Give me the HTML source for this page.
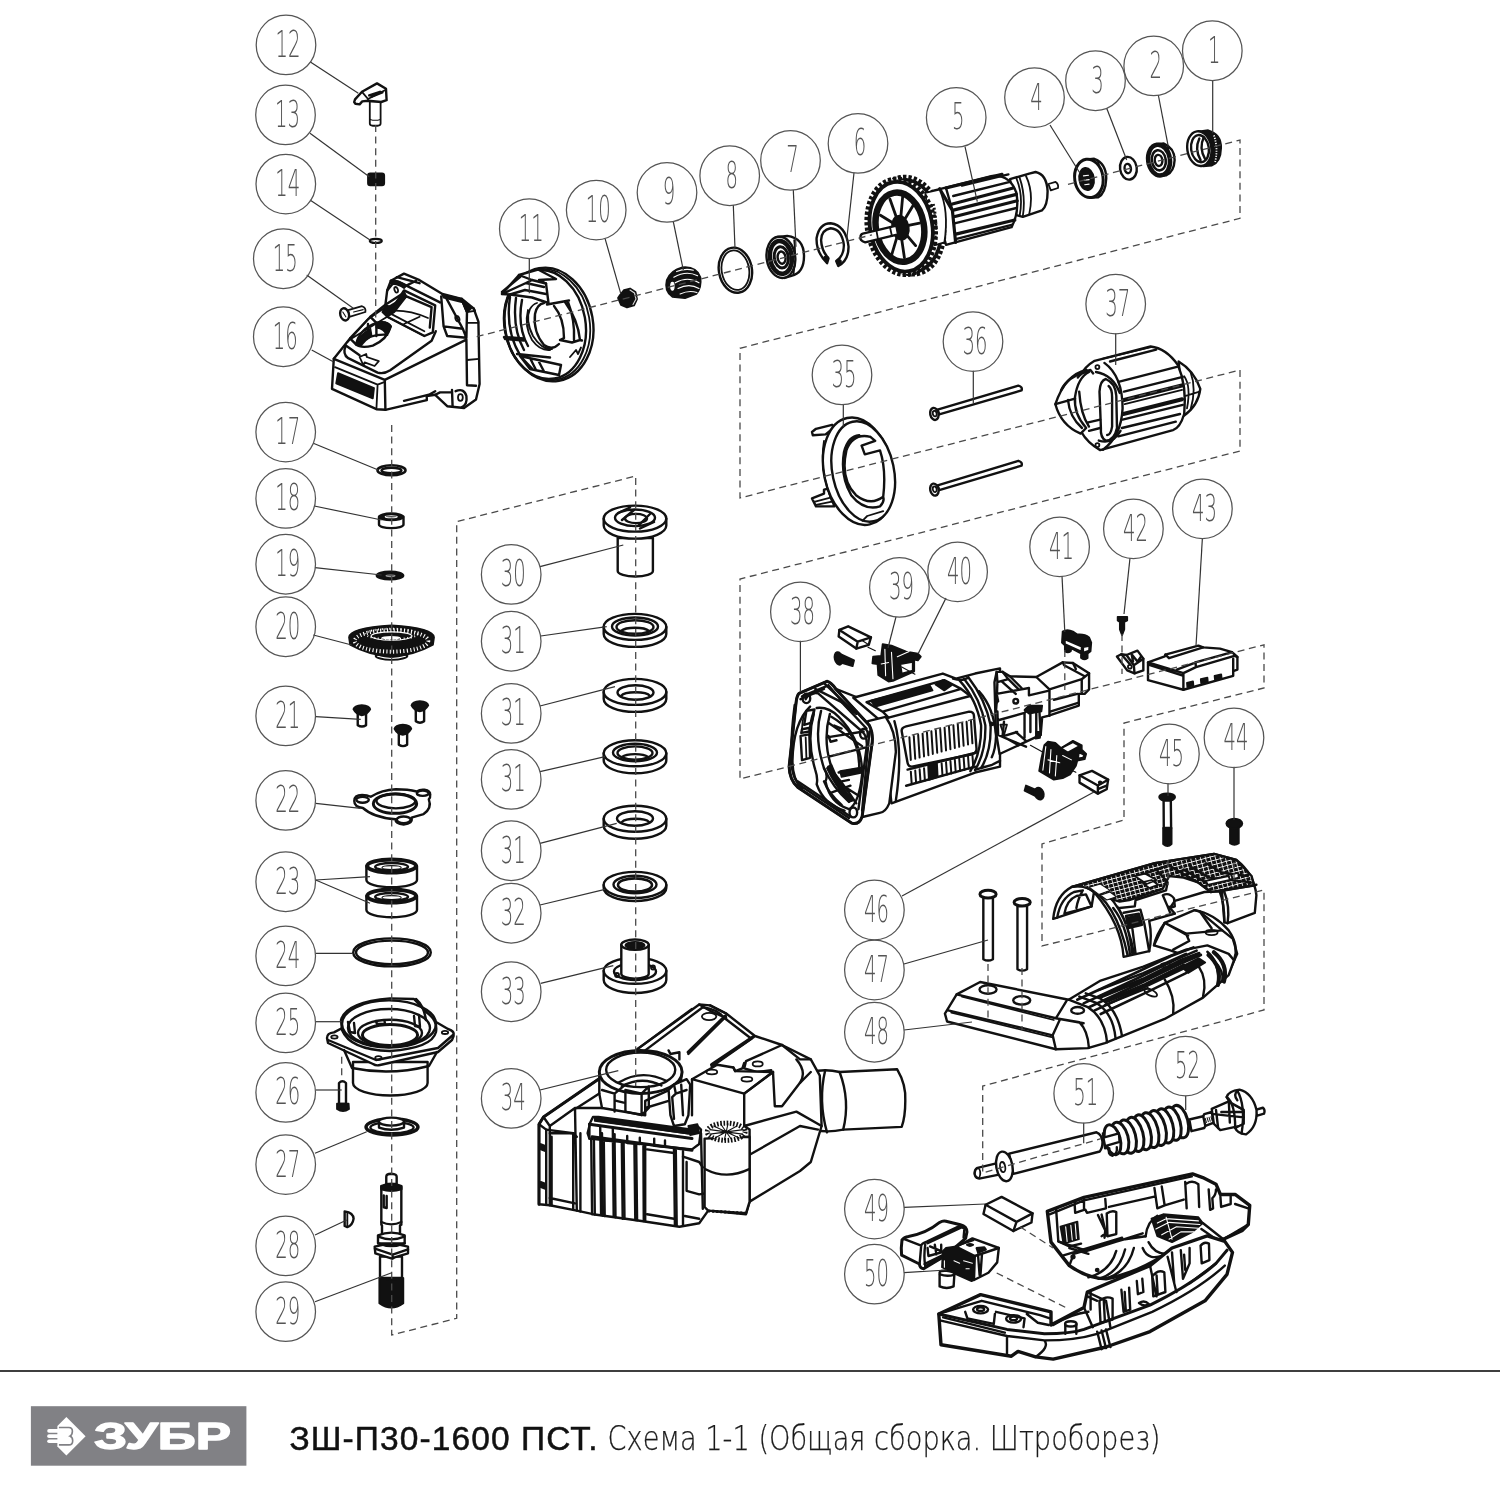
<!DOCTYPE html>
<html lang="ru"><head><meta charset="utf-8"><title>ЗШ-П30-1600 ПСТ. Схема 1-1</title>
<style>
html,body{margin:0;padding:0;background:#fff;}
body{width:1500px;height:1500px;overflow:hidden;position:relative;font-family:"Liberation Sans","DejaVu Sans",sans-serif;}
svg{position:absolute;left:0;top:0;display:block;}
.num{font-family:"DejaVu Sans Light","DejaVu Sans","Liberation Sans",sans-serif;font-weight:200;fill:#555;}
.co{fill:none;stroke:#555;stroke-width:1.25;}
.ld{fill:none;stroke:#333;stroke-width:1.2;}
.ds{fill:none;stroke:#4a4a4a;stroke-width:1.3;stroke-dasharray:7 4.6;}
.p *{vector-effect:non-scaling-stroke;}
.p{fill:none;stroke:#111;stroke-width:1.8;stroke-linejoin:round;stroke-linecap:round;}
.w{fill:#fff;}
.k{fill:#111;}
.t{stroke-width:1.1;}
.h{stroke-width:2.4;}
</style></head><body>
<svg width="1500" height="1500" viewBox="0 0 1500 1500">
<defs><filter id="nf" x="-5%" y="-20%" width="110%" height="140%"><feOffset dx="0" dy="0"/></filter></defs>
<rect width="1500" height="1500" fill="#fff"/>

<!-- p04_01.svg -->
<g class="p" transform="translate(1060,110) scale(0.12667)">
<!-- 4 -->
<path class="w h" d="M215,390 L270,385 Q365,420 365,540 Q360,660 300,690 L240,692 Z"/>
<path d="M300,400 Q335,540 310,680"/>
<ellipse class="w" style="stroke-width:3" cx="228" cy="540" rx="112" ry="152" transform="rotate(-8 228 540)"/>
<ellipse class="k" cx="210" cy="545" rx="58" ry="88" transform="rotate(-8 210 545)"/>
<path style="stroke:#fff" class="t" d="M185,520 L225,515 M190,555 L230,550 M195,590 L230,585"/>
<!-- 3 -->
<ellipse class="w h" cx="540" cy="460" rx="66" ry="90" transform="rotate(-8 540 460)"/>
<ellipse class="h" cx="535" cy="462" rx="25" ry="37" transform="rotate(-8 535 462)"/>
<!-- 2 -->
<path class="w h" d="M770,270 L820,265 Q905,300 905,395 Q900,490 840,515 L800,520 Z"/>
<path d="M850,285 Q875,395 855,505"/>
<ellipse class="w" style="stroke-width:4.5" cx="782" cy="395" rx="86" ry="122" transform="rotate(-8 782 395)"/>
<ellipse style="stroke-width:2.5" cx="780" cy="397" rx="55" ry="80" transform="rotate(-8 780 397)"/>
<ellipse class="h" cx="778" cy="398" rx="30" ry="44" transform="rotate(-8 778 398)"/>
<!-- 1 -->
<path class="k" d="M1100,168 L1170,160 Q1275,190 1272,300 Q1270,410 1200,438 L1130,445 Z"/>
<path style="stroke:#fff;stroke-dasharray:1.2 1.4;stroke-linecap:butt" d="M1215,200 Q1250,300 1225,410"/>
<ellipse class="w h" cx="1100" cy="305" rx="95" ry="138" transform="rotate(-8 1100 305)"/>
<ellipse class="h" cx="1105" cy="305" rx="70" ry="108" transform="rotate(-8 1105 305)"/>
<path class="h" d="M1100,225 Q1060,310 1110,395 M1135,215 Q1095,300 1145,385"/>
</g>

<!-- p05.svg -->
<g class="p" transform="translate(850,140) scale(0.16)">
<!-- commutator + shaft right -->
<path class="w" d="M1240,275 L1285,262 Q1305,275 1300,300 L1255,315 Z"/>
<path class="w h" d="M1000,245 L1120,210 L1160,200 Q1230,215 1235,320 Q1235,410 1200,440 L1080,480 L1040,470 Z"/>
<path d="M1100,225 Q1150,330 1120,465 M1060,235 Q1100,350 1080,478 M1040,240 Q1085,350 1060,475"/>
<!-- body -->
<path class="w h" d="M510,320 L890,225 Q1000,215 1040,330 Q1060,450 1010,545 L600,655 Z"/>
<path style="stroke-width:3.2" d="M560,305 L640,440 L660,640 M640,440 L1040,340 M600,300 L950,215 M650,480 L1045,380 M655,590 L1030,500 M640,400 L1020,300"/>
<path class="h" d="M700,285 L990,215 M660,520 L1040,425 M660,620 L1010,530 M645,350 L1000,262 M600,300 L640,440"/>
<path style="stroke-width:3;stroke-dasharray:1.4 2;stroke-linecap:butt" d="M560,400 Q600,500 590,640"/>
<!-- fan back rim with teeth -->
<ellipse class="w" cx="368" cy="535" rx="212" ry="302" transform="rotate(-10 368 535)" style="stroke-width:6;stroke-dasharray:3.2 2;stroke-linecap:butt"/>
<ellipse cx="368" cy="535" rx="198" ry="288" transform="rotate(-10 368 535)" style="stroke-width:3.5"/>
<path class="w" d="M470,330 L560,310 Q620,440 590,640 L520,660 Z"/>
<path class="h" style="stroke-dasharray:2 2;stroke-width:3;stroke-linecap:butt" d="M520,400 Q545,500 530,620"/>
<ellipse class="w" cx="320" cy="542" rx="208" ry="298" transform="rotate(-10 320 542)" style="stroke-width:6;stroke-dasharray:3.2 2;stroke-linecap:butt"/>
<ellipse class="w" cx="320" cy="542" rx="194" ry="282" transform="rotate(-10 320 542)" style="stroke-width:4"/>
<ellipse class="w h" cx="320" cy="542" rx="190" ry="278" transform="rotate(-10 320 542)"/>
<ellipse cx="312" cy="545" rx="150" ry="218" transform="rotate(-10 312 545)" style="stroke-width:6.5"/>
<g style="stroke-width:2.8"><path d="M312,545 L250,370 M312,545 L330,345 M312,545 L400,400 M312,545 L435,520 M312,545 L410,660 M312,545 L340,735 M312,545 L260,720 M312,545 L195,610 M312,545 L190,470"/></g>
<ellipse class="k" cx="315" cy="548" rx="52" ry="75" transform="rotate(-10 315 548)"/>
<path class="w h" d="M80,585 L290,535 L300,590 L95,640 Q60,630 65,605 Q68,588 80,585 Z"/>
<path d="M165,565 L175,620 M250,545 L262,600"/>
</g>

<!-- p09_06.svg -->
<g class="p" transform="translate(650,210) scale(0.14)">
<!-- 9 pinion -->
<path class="k" d="M120,500 Q150,430 230,410 Q330,400 360,480 Q370,560 330,600 L250,630 L160,620 Q100,580 120,500 Z"/>
<g style="stroke:#fff" class="t"><path d="M170,480 Q260,430 340,470 M180,520 Q270,470 350,520 M200,560 Q280,520 350,560 M215,600 Q280,570 335,590 M190,440 Q250,415 310,430"/><ellipse cx="160" cy="545" rx="12" ry="28" class="w"/></g>
<!-- 8 ring -->
<ellipse class="w h" cx="610" cy="430" rx="118" ry="162" transform="rotate(-10 610 430)"/>
<ellipse cx="610" cy="430" rx="98" ry="142" transform="rotate(-10 610 430)"/>
<!-- 7 bearing -->
<path class="w h" d="M905,195 L980,185 Q1100,200 1100,330 Q1100,450 1010,470 L960,485 Z"/>
<path d="M1030,215 Q1045,330 1025,460"/>
<ellipse class="w h" cx="935" cy="338" rx="102" ry="148" transform="rotate(-8 935 338)"/>
<ellipse class="h" style="stroke-width:4.5" cx="935" cy="338" rx="78" ry="118" transform="rotate(-8 935 338)"/>
<ellipse style="stroke-width:3" cx="938" cy="338" rx="50" ry="76" transform="rotate(-8 938 338)"/>
<ellipse class="h" cx="940" cy="340" rx="28" ry="44" transform="rotate(-8 940 340)"/>
<!-- 6 circlip -->
<path class="w h" d="M1265,380 Q1185,300 1190,200 Q1210,95 1290,95 Q1400,110 1418,260 Q1420,360 1345,400 L1330,365 Q1385,330 1385,250 Q1370,135 1290,130 Q1225,140 1222,215 Q1225,290 1275,345 Z"/>
<circle class="k" cx="1258" cy="345" r="14"/><circle class="k" cx="1350" cy="370" r="14"/>
</g>

<!-- p11_10.svg -->
<g class="p" transform="translate(490,250) scale(0.1)">
<ellipse class="w h" cx="590" cy="745" rx="440" ry="572" transform="rotate(-10 590 745)"/>
<ellipse cx="572" cy="745" rx="425" ry="560" transform="rotate(-10 572 745)"/>
<ellipse class="h" cx="550" cy="745" rx="405" ry="548" transform="rotate(-10 550 745)"/>
<path class="h" d="M200,470 Q150,800 300,1050 M260,480 Q220,780 340,1000 M320,500 Q270,760 380,960"/>
<path class="w h" d="M120,440 L290,250 L480,195 L660,290 L490,300 L560,335 L585,530 L420,475 L200,445 Z"/>
<path class="h" d="M290,250 L420,300 L560,335 M120,440 L360,330 L540,370 M360,330 L420,300 M200,445 L350,400 L560,440 M120,420 L300,270"/>
<path class="h" d="M690,940 Q620,1010 540,950 Q430,820 450,640 Q470,540 540,530"/>
<path d="M620,990 Q520,1000 430,860 Q350,700 400,590 Q430,540 470,530 M380,600 Q340,760 420,900 Q500,1010 600,1000"/>
<path class="h" d="M570,545 L790,505 M750,520 Q880,700 900,900 L920,905 M700,900 L820,925 L900,900 M640,560 Q740,680 740,880 L700,900 M780,520 Q850,700 840,900"/>
<path class="h" d="M140,870 L340,885 L340,905 L150,890 Z M270,1040 L600,1075 M300,1060 L710,1150 L690,1250 L400,1190 Z M400,1080 L460,1200 M480,1100 L540,1215 M330,1090 L420,1185"/>
<path d="M800,1070 L860,1000 L880,1040 L910,975"/>
<path class="k" d="M1300,450 L1340,400 L1400,385 L1455,420 L1470,490 L1440,555 L1370,575 L1310,550 L1280,480 Z"/>
<path class="t" style="stroke:#ddd" d="M1400,400 L1445,430 L1460,490 L1430,545"/>
</g>

<!-- p12_15.svg -->
<g class="p" transform="translate(320,60) scale(0.12)">
<path class="w" d="M415,345 L415,530 Q415,548 440,548 L480,548 Q505,548 505,530 L505,345 Z"/>
<path class="t" d="M418,495 Q460,510 503,495"/>
<path class="w h" d="M285,350 L292,328 L350,265 L475,195 L550,240 L555,335 L510,350 L400,340 L352,345 L330,370 L295,365 Z"/>
<path d="M350,265 L400,325 L545,250 M400,325 L400,340"/>
<path class="h" d="M410,295 L500,265 M430,305 L520,270"/>
<rect class="k" x="400" y="945" width="135" height="100" rx="18"/>
<ellipse class="w" style="stroke-width:2.2" cx="465" cy="1508" rx="50" ry="17"/>
</g>
<g class="p" transform="translate(320,240) scale(0.12)">
<path class="w" d="M235,585 L350,552 Q385,565 378,600 L245,640 Z"/>
<ellipse class="w h" cx="205" cy="620" rx="36" ry="52" transform="rotate(-15 205 620)"/>
<path class="t" d="M280,600 L360,580 M190,600 L215,640"/>
</g>

<!-- p16.svg -->
<g class="p" transform="translate(320,240) scale(0.12)">
<path class="w h" d="M115,990 L250,820 L420,640 L545,540 L560,420 L590,340 L700,280 L830,335 L1020,450 L1180,490 L1280,570 L1320,680 L1330,1200 L1300,1330 L1200,1400 L1060,1385 L960,1290 L890,1300 L890,1335 L545,1415 L470,1410 L100,1240 Z"/>
<path class="h" d="M115,990 L540,1165 L545,1415 M540,1165 L1220,830 L1225,1210 L1300,1215"/>
<path d="M125,1060 L480,1205 L470,1410 M480,1205 L535,1185"/>
<path class="k" d="M150,1110 L450,1235 L440,1320 L135,1195 Z"/>
<path class="h" d="M215,880 Q185,950 235,985 L480,1105 Q530,1120 585,1085 L930,840 L965,760"/>
<path d="M230,850 L400,660 L545,560 M560,640 L250,830"/>
<path class="w" d="M330,975 L385,950 L390,975 L490,1010 L455,1050 L372,1020 L362,1045 Z"/>
<path class="h" d="M300,870 Q330,740 470,690 Q560,670 590,720 Q560,830 440,880 Q340,905 300,870 Z"/>
<path class="h" d="M330,860 Q420,780 560,790 M400,700 L400,800 L340,850 M470,690 L470,800"/>
<path class="h" d="M560,640 L610,560 L700,420 L960,545 L940,770 L870,800 Z"/>
<path class="h" d="M545,540 L700,440 M570,560 L720,470 L930,560 L915,730"/>
<path d="M590,590 Q740,580 900,650 M600,620 L870,760 M700,700 L830,640 M560,640 L870,800"/>
<path class="h" d="M590,340 Q640,330 720,380 L800,340 M640,310 L830,360 M720,380 L1000,520"/>
<path class="k" d="M300,870 Q330,790 420,740 L430,800 Q380,830 340,880 Z M470,690 Q560,670 590,720 Q580,760 550,790 Q540,740 470,730 Z M545,545 L610,560 L700,430 L720,470 L620,600 L560,640 L520,600 Z M590,340 Q640,330 720,380 L700,400 Q640,360 600,370 Z"/>
<path class="h" d="M560,420 L600,370 M250,820 L300,870 M420,640 L470,690 M330,960 L215,880 M1180,490 L1225,600 M1280,570 L1290,590 M890,1300 L960,1260 M700,1340 L900,1290"/>
<ellipse class="w" cx="635" cy="415" rx="14" ry="24" transform="rotate(-20 635 415)"/>
<path class="h" d="M1010,470 L1030,720 L1060,800 L1220,815 L1225,600 L1180,495 M1030,720 L1190,740 L1220,815 M1050,480 L1190,740"/>
<path class="k" d="M1020,455 L1180,490 L1260,570 L1225,600 L1190,520 L1030,480 Z"/>
<ellipse cx="1145" cy="655" rx="16" ry="24" transform="rotate(-20 1145 655)"/>
<path d="M1225,690 L1320,690 M1225,1000 L1325,990 M1225,600 L1290,590"/>
<path class="h" d="M960,1290 L1000,1270 L1100,1270 M1100,1250 L1105,1390 M1130,1260 Q1200,1230 1220,1300 Q1230,1370 1180,1395"/>
<ellipse cx="1170" cy="1312" rx="20" ry="28"/>
</g>

<!-- p17_22.svg -->
<g class="p" transform="translate(320,450) scale(0.1)">
<ellipse class="w" style="stroke-width:2.6" cx="715" cy="203" rx="140" ry="50"/>
<ellipse class="h" cx="715" cy="205" rx="100" ry="28"/>
<path class="w h" d="M590,668 L590,745 A122,36 0 0 0 835,745 L835,668 Z"/>
<ellipse class="k" cx="712" cy="668" rx="122" ry="36"/>
<ellipse style="stroke:#fff" class="t" cx="712" cy="668" rx="60" ry="10"/>
<ellipse class="k" cx="700" cy="1255" rx="135" ry="42"/>
<ellipse style="stroke:#999" class="t" cx="705" cy="1258" rx="45" ry="8"/>
</g>
<g class="p" transform="translate(330,600) scale(0.17333)">
<!-- 20 gear -->
<ellipse class="k" cx="355" cy="322" rx="92" ry="24"/>
<path style="stroke:#fff" class="t" d="M275,325 Q355,350 435,325"/>
<path class="k" d="M110,215 Q112,160 355,146 Q598,160 600,215 L594,258 Q480,322 355,325 Q230,322 116,258 Z"/>
<ellipse style="stroke:#fff;stroke-dasharray:1.1 2.3;stroke-linecap:butt;stroke-width:4" cx="355" cy="236" rx="212" ry="62"/>
<ellipse style="stroke:#fff;stroke-dasharray:1 2.6;stroke-linecap:butt;stroke-width:2" cx="355" cy="196" rx="150" ry="30"/>
<ellipse style="stroke:#fff" class="t" cx="355" cy="208" rx="118" ry="24"/>
<ellipse class="w" style="stroke:none" cx="352" cy="218" rx="55" ry="10"/>
<!-- 21 screws -->
<g id="scr21"><path class="w h" d="M160,650 L208,650 L208,722 Q184,738 160,722 Z"/><path class="k" d="M135,630 Q140,608 183,606 Q228,610 232,630 Q215,660 183,665 Q150,660 135,630 Z"/></g>
<g transform="translate(335,-22)"><path class="w h" d="M160,650 L208,650 L208,722 Q184,738 160,722 Z"/><path class="k" d="M135,630 Q140,608 183,606 Q228,610 232,630 Q215,660 183,665 Q150,660 135,630 Z"/></g><g transform="translate(237,113)"><path class="w h" d="M160,650 L208,650 L208,722 Q184,738 160,722 Z"/><path class="k" d="M135,630 Q140,608 183,606 Q228,610 232,630 Q215,660 183,665 Q150,660 135,630 Z"/></g>
<!-- 22 plate -->
<path class="w h" d="M140,1160 Q140,1125 185,1125 Q215,1125 235,1135 Q300,1095 380,1092 Q450,1092 500,1105 Q520,1092 545,1095 Q580,1100 578,1125 Q580,1140 570,1150 Q590,1200 540,1235 L470,1255 Q480,1290 425,1295 Q375,1290 378,1265 Q250,1255 190,1200 Q140,1195 140,1160 Z"/>
<ellipse style="stroke-width:3" cx="375" cy="1175" rx="125" ry="56"/>
<ellipse class="h" cx="380" cy="1160" rx="112" ry="42"/>
<ellipse class="h" cx="188" cy="1153" rx="36" ry="17"/><ellipse class="h" cx="535" cy="1115" rx="34" ry="15"/><ellipse class="h" cx="425" cy="1268" rx="40" ry="19"/>
</g>

<!-- p23_29.svg -->
<g class="p" transform="translate(320,850) scale(0.2)">
<!-- 23 -->
<g id="brg23"><path class="w h" d="M232,80 L232,150 A126,36 0 0 0 485,150 L485,80 Z"/>
<ellipse class="w" style="stroke-width:4" cx="358" cy="80" rx="122" ry="33"/><ellipse class="h" cx="358" cy="84" rx="82" ry="19"/><ellipse class="w t" cx="358" cy="88" rx="48" ry="10"/></g>
<g transform="translate(0,150)"><path class="w h" d="M232,80 L232,150 A126,36 0 0 0 485,150 L485,80 Z"/>
<ellipse class="w" style="stroke-width:4" cx="358" cy="80" rx="122" ry="33"/><ellipse class="h" cx="358" cy="84" rx="82" ry="19"/><ellipse class="w t" cx="358" cy="88" rx="48" ry="10"/></g>
<!-- 24 -->
<ellipse class="w h" cx="360" cy="512" rx="194" ry="70"/><ellipse class="h" cx="360" cy="512" rx="180" ry="59"/>
<!-- 25 -->
<path class="w h" d="M165,1060 L165,1165 A186,62 0 0 0 538,1165 L538,1060 Z"/>
<path class="w h" d="M35,940 Q35,915 70,912 L130,880 L580,860 L640,895 Q675,905 668,930 L660,950 L590,1010 L300,1075 Q280,1080 265,1070 L40,965 Z"/>
<path class="h" d="M120,1000 L160,1090 Q350,1130 545,1080 L585,1010 M40,950 L280,1050 L590,990 L665,925"/>
<ellipse cx="72" cy="935" rx="16" ry="8"/><ellipse cx="625" cy="912" rx="16" ry="8"/><ellipse cx="292" cy="1040" rx="16" ry="9"/>
<path class="w h" d="M105,850 Q130,760 350,742 L470,745 L530,810 Q590,850 580,910 Q560,990 350,1005 Q150,1000 110,900 Z"/>
<ellipse class="h" cx="345" cy="870" rx="235" ry="118"/>
<ellipse class="h" cx="345" cy="890" rx="205" ry="95"/>
<ellipse style="stroke-width:3" cx="350" cy="925" rx="138" ry="52"/>
<ellipse class="h" cx="350" cy="915" rx="160" ry="66"/>
<path class="h" d="M140,860 L150,910 L175,915 L170,865 M280,855 L285,870 L325,868 L322,852 M470,830 L475,880 L500,885 L495,825 M480,745 Q520,780 530,850"/>
<!-- 26 -->
<path class="w h" d="M95,1165 Q112,1148 130,1165 L130,1270 L95,1270 Z"/>
<path class="k" d="M85,1268 L143,1268 L145,1295 Q115,1315 85,1295 Z"/>
<!-- 27 -->
<ellipse class="w" style="stroke-width:3.5" cx="360" cy="1385" rx="130" ry="40"/>
<ellipse class="h" cx="360" cy="1388" rx="108" ry="28"/>
<path class="w h" d="M295,1360 L295,1388 Q355,1410 420,1388 L420,1360 Z"/>
<ellipse class="w h" cx="357" cy="1358" rx="63" ry="20"/>
</g>
<g class="p" transform="translate(320,1150) scale(0.13333)">
<!-- 29 -->
<path class="w h" d="M497,200 Q497,178 535,178 Q575,180 575,200 L575,255 L497,255 Z"/>
<path class="w h" d="M460,275 L610,275 L610,560 L600,565 L600,640 L465,640 L465,565 L460,560 Z"/>
<path class="k" d="M458,268 Q535,235 612,268 L612,295 Q535,320 458,295 Z"/>
<path class="h" d="M460,540 Q535,575 610,540 M478,340 L478,430 L500,435 L500,345"/>
<path class="w h" d="M435,640 Q535,600 635,640 L635,700 L435,700 Z"/>
<path class="h" d="M437,650 Q535,690 633,650"/>
<path class="w h" d="M450,800 L615,800 L615,960 L450,960 Z"/>
<path class="w h" d="M410,725 Q535,690 660,725 L660,775 L560,805 L540,815 L415,775 Z"/>
<path class="h" d="M412,740 L545,785 L660,745 M545,785 L545,812 M437,700 Q535,740 635,700"/>
<path class="k" d="M445,960 Q535,985 625,960 L625,1150 Q535,1215 445,1150 Z"/>
<!-- 28 -->
<path class="w h" d="M185,460 Q250,470 252,515 Q245,565 205,578 L185,570 Z"/>
<path d="M205,470 L205,575"/>
</g>

<!-- p30_33.svg -->
<g class="p">
<defs>
<g id="wsh"><path class="w h" d="M-31.3,0 L-31.3,7 A31.3,13 0 0 0 31.3,7 L31.3,0 Z"/><ellipse class="w h" cx="0" cy="0" rx="31.3" ry="13"/></g>
</defs>
<!-- 30 -->
<path class="w h" d="M617.7,538 L617.7,571 A17.6,5.5 0 0 0 652.9,571 L652.9,538 Z"/>
<g transform="translate(635,518.6)"><path class="w h" d="M-31.3,0 L-31.3,7 A31.3,13 0 0 0 31.3,7 L31.3,0 Z"/><ellipse class="w h" cx="0" cy="0" rx="31.3" ry="13"/></g>
<ellipse class="h" cx="635" cy="517.8" rx="20" ry="8.3"/>
<ellipse class="h" cx="636" cy="518.5" rx="11" ry="4.6"/>
<path class="h" d="M618,513 L630,507.5 M640,528.5 L654,522 M622,520 L634,510 M638,526 L650,514"/>
<!-- 31a -->
<g transform="translate(635,626.9)"><path class="w h" d="M-31.3,0 L-31.3,7 A31.3,13 0 0 0 31.3,7 L31.3,0 Z"/><ellipse class="w h" cx="0" cy="0" rx="31.3" ry="13"/></g>
<ellipse class="h" cx="635" cy="626.5" rx="23" ry="9"/><ellipse class="h" cx="635" cy="627" rx="18.5" ry="6.8"/><path class="h" d="M621,631 A15,5 0 0 1 649,631"/>
<!-- 31b -->
<g transform="translate(635,691.9)"><path class="w h" d="M-31.3,0 L-31.3,7 A31.3,13 0 0 0 31.3,7 L31.3,0 Z"/><ellipse class="w h" cx="0" cy="0" rx="31.3" ry="13"/></g>
<ellipse class="h" cx="635.5" cy="692.5" rx="18" ry="7.2"/><path class="h" d="M621,696 A15,5 0 0 1 650,696"/>
<!-- 31c -->
<g transform="translate(635,753.3)"><path class="w h" d="M-31.3,0 L-31.3,7 A31.3,13 0 0 0 31.3,7 L31.3,0 Z"/><ellipse class="w h" cx="0" cy="0" rx="31.3" ry="13"/></g>
<ellipse class="h" cx="635" cy="752.5" rx="22" ry="8.8"/><ellipse class="h" cx="635" cy="753" rx="17.5" ry="6.6"/><path class="h" d="M622,757 A14,4.5 0 0 1 648,757"/>
<!-- 31d -->
<g transform="translate(635,818.7)"><path class="w h" d="M-31.3,0 L-31.3,7 A31.3,13 0 0 0 31.3,7 L31.3,0 Z"/><ellipse class="w h" cx="0" cy="0" rx="31.3" ry="13"/></g>
<ellipse class="h" cx="635" cy="818.5" rx="18" ry="7.2"/><path class="h" d="M622,822 A14,4.5 0 0 1 649,822"/>
<!-- 32 -->
<path class="w h" d="M603.7,885 L603.7,888 A31.3,13 0 0 0 666.3,888 L666.3,885 Z"/><ellipse class="w h" cx="635" cy="884.9" rx="31.3" ry="13"/>
<ellipse class="h" cx="635" cy="884.5" rx="21.5" ry="8.8"/><ellipse style="stroke-width:2.6" cx="635" cy="885" rx="17" ry="6.6"/>
<!-- 33 -->
<path class="w h" d="M603.7,970.8 L603.7,980 A31.3,13 0 0 0 666.3,980 L666.3,970.8 Z"/><ellipse class="w h" cx="635" cy="970.8" rx="31.3" ry="13"/>
<ellipse class="h" cx="635" cy="971.5" rx="21" ry="8.5"/>
<circle cx="617" cy="975" r="2"/><circle cx="653" cy="967.5" r="2"/>
<path class="w h" d="M621.3,944.7 L621.3,974 A13.7,4.6 0 0 0 648.7,974 L648.7,944.7 Z"/>
<ellipse class="w h" cx="635" cy="944.7" rx="13.7" ry="5.2"/><ellipse class="k" cx="635" cy="945.2" rx="9.5" ry="3.4"/>
</g>

<!-- p34.svg -->
<g class="p" transform="translate(530,1000) scale(0.18)">
<!-- elbow hose -->
<path class="w h" d="M1560,400 Q1640,380 1720,400 L2040,385 Q2090,470 2085,560 Q2085,650 2065,705 L1740,720 Q1650,740 1580,720 Z"/>
<path class="h" d="M1720,400 Q1780,560 1740,720 M1640,390 Q1600,560 1650,735"/>
<!-- body -->
<path class="w h" d="M50,1135 L50,690 L75,650 L380,440 L600,270 L940,25 L1000,30 L1090,75 L1250,200 L1400,250 L1560,330 L1610,420 L1620,700 L1560,900 L1500,950 L1220,1120 L1200,1190 L990,1170 L940,1240 L830,1260 L600,1225 L350,1190 L260,1170 L110,1140 Z"/>
<path class="h" d="M75,650 L110,700 L110,1140 M110,700 L250,600 L400,600 M50,690 L90,720 L90,1130 M250,600 L260,1170 M240,740 L240,1165 M280,740 L280,1175"/>
<path class="h" d="M600,270 L900,50 M640,280 L960,40 M960,40 Q1040,50 1080,100 L880,300 M1080,100 L1230,215 L1010,370 M1400,250 L1200,340 L1190,380 L1260,400 L1340,390"/>
<path style="stroke-width:3.5" d="M880,290 L1085,90 M1010,360 L1240,205"/>
<ellipse cx="995" cy="92" rx="40" ry="20"/><ellipse cx="1265" cy="355" rx="28" ry="14"/>
<!-- top right box -->
<path class="w h" d="M900,440 L1040,360 L1130,375 L1140,395 L1350,400 L1190,520 Z"/>
<path class="h" d="M900,440 L900,640 M1190,520 L1190,700 L1220,720 L1220,1120 M1350,400 L1360,590 L1400,590 L1500,460 M1190,700 L1480,620 L1620,700 M1220,860 L1500,700 L1600,720 M1480,330 Q1540,400 1500,460"/>
<ellipse cx="1010" cy="400" rx="30" ry="13"/><ellipse cx="1205" cy="440" rx="30" ry="13"/>
<!-- ring -->
<path class="w h" d="M385,400 L385,520 L400,600 L640,640 L640,560 L840,470 L840,390 Z"/>
<ellipse class="w" style="stroke-width:3" cx="615" cy="400" rx="230" ry="120"/>
<ellipse class="h" cx="615" cy="388" rx="192" ry="96"/>
<path class="h" d="M490,460 Q620,380 760,450 M510,480 Q620,420 730,475"/>
<path class="h" d="M400,500 L470,520 L470,620 M470,520 L530,470 M530,500 L620,520 L620,640 L530,620 Z M620,520 L660,480 L660,600 L620,640 M480,560 L520,570"/>
<path class="w h" d="M770,500 L800,470 L870,440 L890,470 L880,640 L860,690 L800,700 L780,640 Z"/>
<path class="h" d="M800,470 L810,520 L790,540 L800,660 M840,470 L850,640 M810,520 L870,500"/>
<path class="h" d="M640,600 L770,560 M260,600 L385,520"/>
<!-- ledge + ribs -->
<path class="h" d="M330,690 L350,650 L380,650 L900,720 L930,700 L950,720 L940,800 L900,830 M330,690 L330,770 L900,830 M380,670 L880,740"/>
<path class="k" d="M360,655 L900,725 L900,745 L360,672 Z"/>
<path class="h" d="M340,770 L345,1190 M390,700 L395,1195 M410,780 L415,1200 M460,710 L465,1205 M510,790 L515,1215 M580,800 L585,1222 M640,810 L640,1228 M800,830 L805,1250 M850,840 L850,1255 M400,740 L400,780 L470,785 L470,745 M540,755 L540,795 L610,800 L610,765 M690,770 L690,810 L750,815 L750,780"/>
<path class="h" d="M110,740 L240,740 M650,830 L800,850 M850,870 L940,900 L960,930 M870,900 L870,1060 L940,1080 L970,1075"/>
<path class="h" d="M120,760 L120,1140 M355,775 L360,1192 M400,785 L405,1198 M470,790 L475,1207 M520,795 L525,1216 M590,805 L595,1224 M630,812 L632,1228 M810,835 L815,1252 M330,770 L320,740 L330,700 M90,720 L240,740 L260,760 M110,1100 L250,1130 M650,1190 L800,1215 M860,1200 L940,1215 M950,740 L960,1160"/>
<path style="stroke-width:3" d="M50,690 L75,650 L380,440 M50,1135 L50,690 M330,690 L900,770 M345,760 L900,835"/>
<path class="k" d="M60,800 L85,810 L85,840 L60,830 Z M60,1010 L85,1020 L85,1050 L60,1040 Z M880,700 L930,690 L940,740 L890,750 Z"/>
<path class="h" d="M1000,30 L1090,75 M940,25 L1000,60 L1090,100 M770,280 L780,300 L830,290 L830,330 M1130,375 L1140,395 L1180,380 L1190,350 M1400,250 L1500,330 L1560,330 M1500,460 L1560,400 M1190,520 L1350,400"/>
<!-- toothed wheel + cylinder -->
<path class="w h" d="M970,770 L970,1150 L990,1170 L1200,1185 L1220,1120 L1220,760 Z"/>
<path class="h" d="M975,940 Q1090,1000 1218,940"/>
<path style="stroke-width:3;stroke-dasharray:2 2;stroke-linecap:butt" d="M990,1172 L1200,1185"/>
<ellipse class="w" style="stroke-width:5;stroke-dasharray:1.6 1.6;stroke-linecap:butt" cx="1090" cy="732" rx="105" ry="48"/>
<path class="t" d="M1000,720 L1180,745 M1020,700 L1160,765 M1060,690 L1120,775 M1100,688 L1080,777 M1150,700 L1030,765 M1185,720 L1000,745"/>
</g>

<!-- p35_36.svg -->
<g class="p" transform="translate(800,380) scale(0.16)">
<!-- 35 -->
<path class="w h" d="M80,345 L75,325 L100,305 L200,280 L215,300 L185,320 L160,340 Z"/>
<path class="w h" d="M75,740 L150,710 L150,685 L175,680 L215,790 L185,790 L100,790 Z"/>
<path d="M95,760 L190,735 M100,780 L200,760"/>
<ellipse class="w h" cx="365" cy="570" rx="215" ry="340" transform="rotate(-12 365 570)"/>
<ellipse class="w h" cx="395" cy="572" rx="192" ry="318" transform="rotate(-12 395 572)"/>
<path d="M150,380 Q120,560 200,760 M390,880 L420,850 L520,820"/>
<path class="h" d="M440,355 Q330,330 290,440 Q250,620 350,720 Q440,790 520,730 M440,355 L470,380 L385,410 L405,465 L500,440 Q540,560 520,730 M520,730 Q530,760 500,790 Q400,820 320,720 Q250,600 275,450 Q300,350 370,345"/>
<!-- 36 -->
<path class="w h" d="M860,185 L1365,35 Q1392,42 1385,65 L870,215 Z"/>
<ellipse class="w h" cx="840" cy="212" rx="26" ry="38" transform="rotate(-12 840 212)"/>
<ellipse cx="842" cy="210" rx="12" ry="18" transform="rotate(-12 842 210)"/>
<path class="w h" d="M860,658 L1365,505 Q1392,512 1385,535 L870,688 Z"/>
<ellipse class="w h" cx="840" cy="685" rx="26" ry="38" transform="rotate(-12 840 685)"/>
<ellipse cx="842" cy="683" rx="12" ry="18" transform="rotate(-12 842 683)"/>
</g>

<!-- p37.svg -->
<g class="p" transform="translate(1040,330) scale(0.14)">
<!-- right coil -->
<path class="w h" d="M990,225 Q1100,290 1145,420 Q1130,540 1030,610 Z"/>
<path d="M1030,330 Q1080,400 1050,560 M1040,470 L1140,440 M1075,300 Q1120,420 1075,570"/>
<!-- body -->
<path class="w h" d="M390,220 L790,118 Q900,130 985,250 Q1050,400 1030,600 Q1000,700 950,715 L430,858 Q250,760 240,520 Q250,300 390,220 Z"/>
<path class="h" d="M460,235 Q590,330 590,560 Q580,760 450,855 M500,225 L830,140"/>
<path class="h" d="M560,370 L985,262 M600,440 L1020,335 M590,640 L1020,535 M585,700 L1000,600 M560,760 L970,655"/>
<path style="stroke-width:4" d="M600,500 L1020,395 M595,600 L1015,495"/>
<path d="M605,530 L1015,428 M450,205 L800,120"/>
<!-- left coil -->
<path class="w h" d="M330,285 Q180,320 110,530 Q150,680 290,740 L330,700 Q240,600 250,480 Q270,340 350,300 Z"/>
<path class="h" d="M150,430 Q200,330 330,300 M110,530 L250,490 M200,500 Q210,620 300,700 M270,340 Q300,300 360,285 L380,310"/>
<path class="w h" d="M470,350 Q540,380 545,470 L550,700 Q530,790 470,790 Q430,770 435,700 L425,440 Q430,360 470,350 Z"/>
<path class="h" d="M490,400 Q515,420 515,480 L515,690 Q505,750 480,750 M280,440 Q290,600 350,690 M345,660 L430,640 M350,720 L430,700"/>
<path class="h" d="M400,300 Q520,320 570,450 M420,790 Q520,820 575,720"/>
<circle class="w" cx="410" cy="265" r="14"/><circle class="w" cx="410" cy="822" r="14"/>
</g>

<!-- p38a.svg -->
<g class="p" transform="translate(780,620) scale(0.14667)">
<!-- body cylinder -->
<path class="w h" d="M500,530 L1110,365 L1200,400 L1330,365 L1500,330 L1500,1000 L1330,1040 L760,1250 L700,700 Z"/>
<path class="h" d="M590,560 L1120,410 L1235,470 L700,625 Z M700,625 L740,665 M1235,470 L1300,520"/>
<path class="k" d="M620,550 L1020,445 L1040,480 L650,590 Z M1060,440 L1110,410 L1170,445 L1120,480 Z"/>
<path class="h" d="M740,665 L1290,520 M1180,400 Q1250,420 1284,391 M1284,391 Q1400,540 1436,718 Q1440,900 1371,1009"/>
<path class="h" d="M830,760 Q825,735 860,725 L1290,625 Q1320,625 1322,650 L1340,880 Q1340,905 1310,915 L900,1000 Q875,1000 870,975 Z"/>
<path style="stroke-width:2" d="M882,799 L892,954 M912,791 L922,946 M942,783 L952,938 M972,775 L982,930 M1002,767 L1012,922 M1032,758 L1042,913 M1062,750 L1072,905 M1092,742 L1102,897 M1122,734 L1132,889 M1152,726 L1162,881 M1182,718 L1192,873 M1212,710 L1222,865 M1242,702 L1252,857 M1272,694 L1282,849 M1302,686 L1312,841"/>
<path style="stroke-width:2" d="M892,1034 L898,1119 M922,1026 L928,1111 M952,1018 L958,1103 M982,1010 L988,1095 M1102,977 L1108,1062 M1132,969 L1138,1054 M1162,961 L1168,1046 M1192,953 L1198,1038 M1222,945 L1228,1030 M1252,937 L1258,1022 M1282,929 L1288,1014 M1312,921 L1318,1006"/>
<path class="h" d="M780,690 Q840,900 790,1230 M860,1130 L1330,1000 M870,1020 L1335,905"/>
<path class="k" d="M1010,990 L1070,975 L1075,1070 L1015,1090 Z"/>
<path class="h" d="M1440,700 Q1500,720 1500,800 M1436,718 L1500,700 M1371,1009 L1440,990 L1500,960 M1330,1022 L1400,1000"/>
<!-- collar -->
<path class="w h" d="M600,690 L720,660 Q790,760 790,900 L745,1250 Q720,1310 680,1315 L555,1345 Z"/>
<!-- flange -->
<path class="w h" d="M130,500 L320,418 Q350,425 380,470 L610,720 Q640,780 625,860 L560,1340 Q540,1400 490,1385 L120,1140 Q65,1090 62,1000 L110,560 Q115,515 130,500 Z"/>
<path class="h" d="M150,520 L330,445 M175,540 Q200,490 260,500 L560,760 Q600,800 590,870 L535,1290 M120,1100 L480,1340 M380,470 L520,525 M330,445 L480,620 M240,470 L420,560"/>
<path class="h" d="M420,560 L590,740 M300,430 L520,640"/>
<ellipse class="h" cx="180" cy="535" rx="26" ry="32"/><ellipse class="h" cx="572" cy="775" rx="26" ry="34"/><ellipse class="h" cx="500" cy="1312" rx="26" ry="34"/>
<path class="h" d="M205,590 Q90,700 85,960 Q85,1090 150,1150 M250,600 Q330,590 400,660 Q560,820 560,1050 Q540,1250 470,1290 M280,620 Q230,800 300,1010 Q330,1060 310,1100 Q340,1250 470,1290"/>
<path class="h" d="M340,640 Q290,820 350,1000 M330,700 L560,860 M320,800 L570,760 M340,930 L580,870 M400,1040 L560,1010 M380,1100 L540,1200 M340,1180 L480,1130 M330,1000 Q420,1100 520,1250"/>
<path class="k" d="M410,1030 L560,1005 L560,1040 L420,1070 Z M350,985 Q400,1120 500,1230 L470,1240 Q370,1120 320,1010 Z"/>
<path class="h" d="M180,620 L235,610 L215,700 L165,715 Z M150,745 L205,735 L200,760 L145,770 Z M140,790 L200,780 L205,940 L150,955 Z"/>
<path d="M165,640 Q150,700 150,745 M230,620 Q200,700 200,780 M175,800 L180,940"/>
<path class="h" d="M100,580 Q70,800 80,1000 Q90,1090 140,1130 L470,1350 M140,540 L300,470 M610,760 L560,1300 M230,640 Q180,820 240,1020 Q260,1080 250,1120 Q300,1260 440,1300 M300,1010 Q360,1140 470,1240 M350,660 Q420,700 470,760 Q540,860 540,1000 M370,720 L420,740 M330,790 L345,830 L385,820 M420,1100 L470,1090 M300,1100 Q330,1180 420,1260"/>
<path style="stroke-width:3" d="M130,500 L320,418 Q350,425 380,470 L610,720 Q640,780 625,860 L560,1340 Q540,1400 490,1385 L120,1140 Q65,1090 62,1000 L110,560 Q115,515 130,500 Z"/>
<path class="h" d="M1225,413 Q1340,540 1371,718 Q1375,900 1298,1031 M1255,400 Q1370,540 1400,718 Q1405,900 1330,1022 M1356,485 Q1460,600 1473,791 Q1470,880 1444,936"/>
<!-- brush top-left -->
<path class="w h" d="M405,68 L465,43 L620,118 L605,170 L520,195 L400,112 Z"/>
<path class="h" d="M405,68 L530,148 L520,195 M530,148 L620,118"/>
<path class="t" d="M560,140 L600,165"/>
<!-- screw -->
<path class="k" d="M420,235 L505,275 L495,315 L415,290 Z"/>
<ellipse class="k" cx="400" cy="262" rx="27" ry="44" transform="rotate(-15 400 262)"/>
<!-- brush holder 39/40 -->
<path class="k" d="M700,165 L760,175 L860,215 L940,230 L960,250 L940,275 L915,270 L915,350 L770,415 L740,420 L670,375 L665,300 L630,295 L635,250 L690,245 Z"/>
<path class="w" d="M820,300 L905,285 L905,345 L830,365 Z"/>
<path style="stroke:#fff" class="t" d="M715,200 L720,380 M690,300 L740,290 M760,220 L770,400 M800,250 L880,215"/>
<path class="t" d="M600,185 L650,210 M830,320 L920,370"/>
</g>

<!-- p38b.svg -->
<g class="p" transform="translate(960,600) scale(0.14667)">
<!-- rear section of housing -->
<path class="w h" d="M235,560 L250,490 L290,490 L340,520 L520,525 L700,425 L770,430 L880,500 L880,610 L850,640 L810,640 L810,720 L600,790 L560,800 L550,920 L400,990 L270,1050 L245,900 Z"/>
<path class="h" d="M520,525 L610,610 L610,790 M610,610 L830,540 L880,500 M830,540 L830,640 M700,425 L710,445 L850,520 M770,430 L790,470 M640,680 L800,640 M620,760 L810,700"/>
<path class="h" d="M250,490 L255,560 L330,540 L290,490 M255,560 L250,700 L260,690 L250,640 L470,600 L470,650 L600,620 M340,520 L420,600 M290,560 L380,640 M330,540 L400,610"/>
<path class="h" d="M250,700 L245,760 L255,760 L260,920 L330,950 L400,990 M260,820 L440,770 L440,940 M440,770 L470,740 L540,730 L550,920 M300,830 L290,930 L390,900 M330,950 L450,1000 M380,900 L450,960 M480,760 L480,900 M520,750 L520,910"/>
<path class="k" d="M440,750 L470,720 L560,720 L555,760 L470,775 Z M520,900 L550,900 L545,940 L515,945 Z"/>
<circle class="h" cx="380" cy="690" r="16"/>
<path d="M275,850 L300,920 L320,850 Z"/>
<!-- 41 -->
<path class="k" d="M700,215 Q730,195 770,215 L800,235 Q850,230 880,255 L895,290 L890,350 L870,365 L870,395 Q845,415 825,395 L825,365 L760,330 L755,350 Q735,365 715,350 L715,310 L695,290 Z"/>
<path class="w" d="M715,268 L830,318 L828,352 L715,300 Z M840,322 L882,312 L880,345 L840,358 Z"/>
<!-- 42 -->
<path class="k" d="M1075,115 L1140,115 L1140,140 L1120,150 L1120,200 L1105,240 L1090,200 L1090,150 L1075,140 Z"/>
<!-- bracket -->
<path class="w h" d="M1070,385 L1100,370 L1135,375 L1210,345 L1250,400 L1250,480 L1190,500 L1140,480 Z"/>
<path class="h" d="M1135,375 L1185,445 L1190,500 M1185,445 L1250,400 M1100,370 L1160,440 M1170,370 L1210,420 L1235,385 M1170,370 L1180,420"/>
<circle cx="1158" cy="455" r="13"/>
<!-- brush holder 2 -->
<path class="k" d="M600,965 L650,975 L690,1010 L770,960 L830,990 L830,1020 L860,1050 L850,1085 L800,1095 L790,1130 L750,1190 L700,1215 L640,1225 L540,1165 L555,1080 L575,990 Z"/>
<path class="w" d="M690,1010 L770,970 L815,995 L735,1040 Z M810,1040 L845,1055 L840,1075 L805,1080 Z"/>
<path style="stroke:#fff" class="t" d="M585,1000 L565,1160 M620,1020 L610,1180 M600,1090 L680,1110 M660,1060 L650,1200 M700,1060 L760,1090"/>
<!-- brush 46 -->
<path class="w h" d="M815,1195 L900,1165 L1010,1225 L1000,1290 L940,1320 L815,1245 Z"/>
<path class="h" d="M815,1195 L940,1265 L940,1320 M940,1265 L1010,1225 M940,1290 L1000,1265"/>
<circle class="k" cx="955" cy="1245" r="9"/>
<!-- screw 2 -->
<path class="k" d="M450,1265 L530,1300 L520,1340 L440,1300 Z"/>
<ellipse class="k" cx="540" cy="1320" rx="30" ry="42" transform="rotate(-20 540 1320)"/>
<path class="t" d="M480,990 L560,1035 M760,1160 L790,1175"/>
</g>

<!-- p43.svg -->
<g class="p" transform="translate(1100,600) scale(0.12)">
<path class="w h" d="M400,520 L540,470 L545,455 L820,380 L860,395 L1000,405 L1100,435 L1145,475 L1145,580 L1110,592 L1110,632 L695,748 L400,668 Z"/>
<path class="h" d="M400,520 L695,610 L695,748 M695,610 L800,560 L795,520 L1080,440 L1100,435 M800,560 L1120,465 L1145,475 M410,540 L690,630"/>
<path class="h" d="M545,455 L575,485 L860,395 M575,485 L560,470 M640,580 L800,520 M1110,490 L1110,592"/>
<path class="k" d="M725,690 L775,678 L778,712 L728,725 Z M840,660 L895,647 L898,680 L843,693 Z M955,632 L1010,620 L1013,650 L958,663 Z"/>
</g>

<!-- p44_45.svg -->
<g class="p" transform="translate(1030,780) scale(0.16)">
<!-- screw 45 -->
<path class="w h" d="M835,120 L880,120 L882,300 L836,300 Z"/>
<path class="k" d="M832,300 L885,300 L885,400 Q860,425 832,400 Z"/>
<ellipse class="k" cx="857" cy="107" rx="50" ry="24"/>
<!-- screw 44 -->
<path class="k" d="M1250,290 L1305,290 L1305,395 Q1278,415 1250,395 Z"/>
<ellipse class="k" cx="1277" cy="272" rx="50" ry="30"/>
<!-- upper shell -->
<path class="w h" d="M145,868 Q160,720 262,668 L780,520 L1150,462 L1290,500 Q1400,585 1415,720 L1405,830 L1235,895 L1215,890 Q1215,770 1185,695 L1090,700 L905,755 L875,800 L905,835 L745,880 Q765,980 745,1070 L585,1105 Q570,900 400,700 L385,790 L155,865 Z"/>
<path class="h" d="M170,860 Q190,740 275,700 L330,690 M215,835 Q230,750 290,725 L350,715 L385,790 M215,835 L370,795 M262,668 Q340,650 400,700 M330,690 Q300,740 290,800"/>
<path class="h" d="M350,660 Q540,760 610,1095 M400,650 Q590,760 650,1085 M520,800 Q600,900 625,1090 M545,790 Q620,900 640,1088"/>
<defs><pattern id="tx1" width="30" height="26" patternUnits="userSpaceOnUse" patternTransform="rotate(-15)"><rect width="30" height="26" fill="#111" stroke="none"/><rect width="30" height="5" fill="#fff" stroke="none"/><rect width="5" height="26" fill="#fff" stroke="none"/></pattern></defs>
<path style="fill:url(#tx1);stroke-width:2.4" d="M262,668 L780,520 L1150,462 L1290,500 L1385,600 L1400,660 L1130,700 L1050,640 L960,610 L870,600 L830,680 L620,750 L560,760 L480,735 L400,700 Q340,655 262,668 Z"/>
<path class="w" d="M655,600 L720,585 L790,625 L730,650 Z M700,640 L760,625 L800,655 L745,675 Z"/>
<path class="w t" d="M370,670 L440,650 L500,690 L430,715 Z M440,720 L500,700 L540,730 L480,750 Z"/>
<path class="h" d="M720,585 L790,560 L860,640 L850,690 L660,750 L655,790 L560,800 M790,560 L870,530"/>
<path class="h" d="M870,535 L1050,640 L1130,700 M960,560 L1100,640 M1000,540 L1120,610 L1380,640 M1100,520 L1200,580 L1360,600"/>
<path class="w" d="M1100,630 L1240,600 L1250,625 L1110,655 Z M1260,590 L1300,580 L1305,610 L1265,620 Z"/>
<path class="h" d="M1185,695 L1415,655 M1235,895 Q1250,790 1215,700 M1215,890 L1200,700"/>
<path class="h" d="M585,830 L690,810 L715,900 L745,1070 M600,850 L680,835 L700,905 L615,925 Z M640,930 L660,1085"/>
<path class="k" d="M610,860 L675,845 L690,900 L620,915 Z"/>
<path class="h" d="M830,720 Q870,700 900,740 L905,790 Q880,800 860,790 Z M860,790 L880,840 L905,835"/>
</g>

<!-- p47_48.svg -->
<g class="p" transform="translate(930,860) scale(0.21333)">
<!-- 47 bolts -->
<path class="w h" d="M250,170 L295,170 L295,465 Q272,478 250,465 Z"/>
<ellipse class="w" style="stroke-width:3" cx="272" cy="160" rx="38" ry="18"/>
<path class="w h" d="M410,208 L455,208 L455,512 Q432,525 410,512 Z"/>
<ellipse class="w" style="stroke-width:3" cx="432" cy="198" rx="38" ry="18"/>
<!-- 48 upper arm -->
<path class="w h" d="M1050,400 L1100,295 L1240,235 L1265,242 L1370,330 L1420,370 L1440,440 L1400,530 L1330,600 L1200,450 L1130,425 Z"/>
<path class="h" d="M1100,295 L1200,345 L1370,330 M1200,345 L1215,380 L1140,420 M1110,300 L1210,355 M1265,242 L1320,320"/>
<ellipse cx="1320" cy="340" rx="28" ry="12"/>
<!-- 48 body -->
<path class="w h" d="M70,720 L125,630 L235,572 L650,655 L800,565 L1000,500 L1200,420 L1300,400 L1400,440 L1425,470 L1400,540 L1280,645 L1100,745 L820,858 L740,882 L590,887 L80,757 Z"/>
<path class="h" d="M125,630 L590,742 L640,660 M85,705 L575,822 L590,887 M575,822 L610,745 L700,760 Q740,800 745,880 M590,742 L720,765"/>
<path d="M150,640 L580,750 M100,715 L570,830"/>
<ellipse class="w h" cx="272" cy="607" rx="40" ry="20"/><ellipse class="w h" cx="430" cy="658" rx="40" ry="20"/><ellipse class="w h" cx="692" cy="705" rx="30" ry="16"/>
<path class="h" d="M650,655 L740,690 Q820,740 830,855 M700,640 L780,670 Q860,720 870,838 M730,625 L800,650 Q880,700 900,825"/>
<path style="stroke-width:4" d="M800,640 L1000,560 L1180,470 L1260,440 M830,660 L1010,585 L1190,495"/>
<path class="h" d="M790,610 L1000,530 L1200,440 M820,680 L1020,600 M940,590 Q1000,560 1040,540 M1100,560 Q1150,640 1140,720 M1260,500 Q1300,560 1280,640 M1330,470 Q1380,520 1370,570 M1300,430 Q1360,480 1350,590"/>
<path style="stroke-width:2.6" d="M720,672 L960,560 L1150,468 L1250,425 M745,690 L980,580 L1170,488 L1270,445 M770,706 L1000,598 L1190,508 M800,722 L1020,618 L1200,530 M690,655 L940,540 L1130,450 L1235,410"/>
<path style="stroke-width:4" d="M1305,445 Q1370,500 1350,585 M1330,432 Q1400,490 1378,570"/>
<path class="h" d="M1240,235 Q1330,250 1400,330 Q1450,400 1425,470 M1100,295 Q1060,350 1050,400"/>
<ellipse cx="1035" cy="622" rx="32" ry="14" transform="rotate(25 1035 622)"/>
<ellipse cx="1105" cy="493" rx="22" ry="9"/>
<path class="k" d="M1180,500 L1260,460 L1290,480 L1210,530 Z"/>
</g>

<!-- p49_52.svg -->
<g class="p" transform="translate(960,1080) scale(0.21333)">
<!-- 51 -->
<path class="w h" d="M82,412 L195,385 L200,440 L90,462 Q68,455 68,437 Q70,418 82,412 Z"/>
<ellipse cx="82" cy="437" rx="13" ry="24"/>
<path class="w h" d="M230,345 L640,245 Q665,255 668,290 Q668,320 655,335 L250,440 Z"/>
<ellipse class="w h" cx="208" cy="405" rx="38" ry="70" transform="rotate(-10 208 405)"/>
<ellipse cx="200" cy="408" rx="12" ry="24" transform="rotate(-10 200 408)"/>
<!-- 52 spring -->
<path class="w h" d="M670,250 L760,225 L760,300 L680,320 Z"/>
<g class="w" style="stroke-width:3">
<ellipse cx="1030" cy="195" rx="38" ry="78" transform="rotate(-15 1030 195)"/>
<ellipse cx="995" cy="205" rx="38" ry="80" transform="rotate(-15 995 205)"/>
<ellipse cx="960" cy="215" rx="38" ry="82" transform="rotate(-15 960 215)"/>
<ellipse cx="925" cy="225" rx="38" ry="84" transform="rotate(-15 925 225)"/>
<ellipse cx="890" cy="235" rx="38" ry="84" transform="rotate(-15 890 235)"/>
<ellipse cx="855" cy="245" rx="38" ry="84" transform="rotate(-15 855 245)"/>
<ellipse cx="820" cy="255" rx="38" ry="82" transform="rotate(-15 820 255)"/>
<ellipse cx="785" cy="265" rx="38" ry="80" transform="rotate(-15 785 265)"/>
<ellipse cx="750" cy="272" rx="38" ry="76" transform="rotate(-15 750 272)"/>
<ellipse cx="715" cy="280" rx="36" ry="72" transform="rotate(-15 715 280)"/>
</g>
<path class="w h" d="M672,270 L745,250 L748,290 L680,310 Z"/>
<path class="h" d="M700,320 Q690,350 715,355 Q740,345 735,315"/>
<!-- plug -->
<path class="w h" d="M1075,185 L1140,170 L1145,160 L1180,150 L1190,200 L1150,215 L1145,225 L1085,240 Z"/>
<path style="stroke-width:5;stroke-dasharray:1 1;stroke-linecap:butt" d="M1150,190 L1190,178"/>
<path class="w h" d="M1180,135 L1260,100 L1330,140 L1335,210 L1220,235 L1190,205 Z"/>
<path class="w h" d="M1385,140 L1420,130 Q1432,140 1425,158 L1390,168 Z"/>
<path class="w h" d="M1250,80 Q1260,50 1310,45 Q1370,60 1390,140 Q1395,220 1340,255 Q1300,250 1290,225 L1330,205 L1330,140 L1265,105 Z"/>
<path class="h" d="M1260,100 L1265,200 M1200,140 L1210,225 M1140,170 L1150,215 M1250,80 Q1290,110 1290,225 M1300,50 Q1340,120 1320,250 M1190,160 L1330,175 M1225,150 L1330,150 M1300,95 Q1280,70 1300,50"/>
<!-- 49 -->
<path class="w h" d="M120,585 L195,548 L340,625 L335,668 L250,708 L110,628 Z"/>
<path class="h" d="M120,585 L265,665 L250,708 M265,665 L340,625"/>
</g>

<!-- p50_shell.svg -->
<g class="p" transform="translate(1040,1160) scale(0.14667)">
<!-- upper arm of lower shell -->
<path class="w" style="stroke-width:3.4" d="M50,350 L300,255 L1040,95 L1110,120 L1200,165 L1230,235 L1330,235 L1430,310 L1420,440 L1380,480 L1250,540 L1100,560 L860,640 Q640,780 450,810 Q330,810 200,720 L75,560 Z"/>
<path class="h" d="M65,370 L300,275 L1035,112 M110,335 L125,555 L200,590 L280,570 M235,285 L240,360 L300,340 L300,270 M310,340 L320,360 L450,330 L445,265 M470,320 L780,250 M780,190 L800,330 L850,310 L830,180 M850,310 L980,270 M990,150 L1000,330 M1080,170 L1085,320 M1000,160 Q1040,135 1080,165 M1150,200 L1160,340 L1180,330 L1175,260 Q1200,240 1200,200"/>
<path class="h" d="M125,555 L320,620 L700,500 M200,720 L230,640 L580,540 L720,520 M200,600 L330,640 M160,650 L560,530 M330,800 Q480,760 520,620 M400,810 Q540,770 580,610 M450,810 Q600,760 640,600 M700,600 Q740,700 860,640"/>
<path class="k" d="M140,455 L255,420 L265,540 L160,570 Z"/>
<path style="stroke:#fff" class="t" d="M175,455 L185,555 M210,445 L220,545 M240,435 L248,535"/>
<path class="h" d="M395,375 L445,480 L440,530 M420,372 L445,480 M455,365 L460,520 L520,505 L520,355 Q490,340 455,365 M420,520 Q440,500 460,520"/>
<circle class="k" cx="225" cy="660" r="12"/><circle class="k" cx="390" cy="750" r="10"/>
<path class="k" d="M760,400 L840,370 L1080,390 L1110,430 L1040,490 L900,560 L800,520 Z"/>
<path style="stroke:#fff" class="t" d="M800,430 L860,400 L1080,415 M790,470 L880,425 L1090,440 M830,510 L930,455 L1080,465 M880,540 L960,490 L1050,490 M860,390 L900,540"/>
<path class="h" d="M720,520 Q730,420 800,380 M740,560 Q780,640 860,640 M1110,430 L1250,540 M1100,470 L1230,560 M1230,250 L1235,320 L1300,300 L1300,240 M1250,540 L1420,440 M1330,300 L1420,330"/>
</g>
<g class="p" transform="translate(930,1160) scale(0.22)">
<!-- lower arm -->
<path class="w" style="stroke-width:3.4" d="M40,700 L230,612 L550,690 L550,750 L700,670 L715,600 L1000,480 L1100,400 L1260,345 L1340,370 L1375,420 L1350,520 L1250,640 L1000,780 L800,850 L560,905 L480,895 L400,870 L370,892 L50,840 Z"/>
<path style="stroke-width:3" d="M40,700 L350,770 L520,790 Q640,790 700,770 L1000,660 Q1200,560 1300,470 L1350,410"/>
<path class="h" d="M50,730 L350,800 L350,890 M350,800 L520,820 Q545,850 480,895 M520,820 Q660,820 760,790 L1010,690 Q1220,590 1340,480 M60,715 L340,785"/>
<path class="h" d="M70,690 L235,640 L500,705 L545,720 M160,690 L170,720 L290,745 L295,700 M300,690 L430,720 L425,760 M440,700 L490,740 L540,750 M700,670 L740,760 M715,600 L800,640 L820,760 M760,780 L780,860 M800,770 L820,850 M780,775 L800,855"/>
<ellipse class="h" cx="230" cy="680" rx="34" ry="17"/><ellipse class="h" cx="230" cy="678" rx="16" ry="8"/>
<ellipse class="h" cx="380" cy="722" rx="34" ry="17"/><ellipse class="h" cx="380" cy="720" rx="16" ry="8"/>
<path class="h" d="M615,745 L615,790 M665,745 L665,790"/><ellipse class="w h" cx="640" cy="745" rx="26" ry="12"/>
<path class="h" d="M770,640 L775,740 L830,725 L830,630 Q800,615 770,640 M790,640 L795,735 M870,590 L880,690 L910,680 L905,580 M885,600 L890,685 M940,550 L945,610 L970,600 L965,540 M1010,530 L1015,620 L1070,600 L1065,510 Q1035,495 1010,530 M1030,525 L1035,612 M950,650 Q975,635 995,655 Q975,670 950,650 M1100,420 L1110,560 M1140,410 L1150,540 L1180,470 L1180,400 M1155,430 L1160,500 M1230,390 L1235,470 L1270,455 L1268,380 Q1245,368 1230,390 M1000,480 L1030,620 M1080,440 L1120,600 M1180,560 L1300,470"/>
<path class="h" d="M560,750 Q640,700 720,690 M715,620 L760,640 M730,600 L730,680"/>
</g>
<g class="p" transform="translate(890,1200) scale(0.08)">
<!-- 50 switch -->
<path class="w" style="stroke-width:3" d="M150,500 Q180,460 230,455 Q450,420 620,280 Q660,255 700,265 L880,310 Q960,330 962,400 L945,480 L700,690 L420,860 Q370,850 368,800 L145,690 Q135,600 150,500 Z"/>
<path class="h" d="M180,490 L390,570 L370,800 M390,570 Q400,540 460,520 L880,320 M440,560 Q420,700 440,820 M470,540 L900,340 L930,360 L920,470 M470,600 L480,700 L700,640 M500,580 L640,640 L640,560 M560,560 L580,680 M430,800 L700,670 M440,830 L700,700"/>
<path class="k" d="M700,600 L830,580 L1060,700 L1050,1000 L1020,1015 L830,930 L650,840 L660,640 Z"/>
<path class="w h" d="M830,585 L1030,480 L1360,600 L1340,780 L1230,910 L1050,1000 L1060,700 Z"/>
<path class="h" d="M1060,700 L1360,600 M1150,670 L1130,950 M860,560 L1040,500 M1100,680 L1120,940"/>
<path class="k" d="M960,560 Q1000,540 1040,560 Q1000,590 960,560 Z M1080,600 L1180,590 L1200,620 L1100,660 Z"/>
<path style="stroke:#fff" class="t" d="M800,760 L870,790 M920,760 L1030,790 M950,860 L990,860 M680,760 L680,840"/>
<path class="w h" d="M620,905 Q620,880 710,885 Q800,895 805,925 L795,1080 Q710,1120 620,1080 Z"/>
<path class="h" d="M625,930 Q710,960 800,935"/>
</g>

<g class="ds">
<polyline points="375.7,125.0 375.7,320.0"/>
<polyline points="391.7,425.0 391.7,1335.0 456.7,1318.3 456.7,521.7 635.7,476.0 635.7,1086.0"/>
<polyline points="341.7,1056.7 341.7,1080.0"/>
<polyline points="476.7,336.7 872.0,234.8"/>
<polyline points="1068.0,184.3 1240.0,140.0 1240.0,218.3 740.0,348.3 740.0,498.0 1240.0,370.0 1240.0,451.0 740.0,579.0 740.0,779.0 1264.0,644.8 1264.0,688.0 1124.0,723.0 1124.0,820.0 1042.0,844.0 1042.0,946.0 1264.0,890.0 1264.0,1010.0 982.7,1086.0 982.7,1173.0 1100.8,1138.7"/>
<polyline points="1020.0,1226.7 1053.0,1248.0"/>
<polyline points="996.7,1273.0 1066.7,1308.0"/>
<polyline points="988.0,964.0 988.0,1022.0"/>
<polyline points="1022.0,968.0 1022.0,1030.0"/>
<polyline points="1168.0,860.0 1168.0,885.0"/>
<polyline points="1234.0,862.0 1234.0,880.0"/>
<polyline points="1064.8,650.0 1064.8,690.0"/>
<polyline points="1122.0,634.0 1122.0,674.0"/>
</g>
<g class="ld">
<line x1="310.0" y1="61.7" x2="358.3" y2="93.3"/>
<line x1="310.0" y1="133.3" x2="369.3" y2="176.7"/>
<line x1="310.0" y1="200.0" x2="370.0" y2="240.0"/>
<line x1="306.7" y1="275.0" x2="353.3" y2="308.3"/>
<line x1="311.7" y1="350.0" x2="333.3" y2="361.7"/>
<line x1="313.3" y1="443.3" x2="378.3" y2="470.0"/>
<line x1="529.3" y1="258.3" x2="529.3" y2="293.3"/>
<line x1="605.0" y1="238.3" x2="620.7" y2="293.3"/>
<line x1="673.3" y1="221.7" x2="683.3" y2="270.0"/>
<line x1="733.3" y1="205.0" x2="735.0" y2="248.3"/>
<line x1="793.3" y1="190.0" x2="796.0" y2="246.7"/>
<line x1="854.0" y1="172.7" x2="846.7" y2="240.0"/>
<line x1="965.0" y1="146.7" x2="977.3" y2="201.7"/>
<line x1="843.3" y1="404.0" x2="843.3" y2="426.7"/>
<line x1="973.3" y1="370.7" x2="973.3" y2="403.3"/>
<line x1="1050.0" y1="125.0" x2="1080.0" y2="173.3"/>
<line x1="1106.7" y1="108.3" x2="1126.7" y2="160.0"/>
<line x1="1158.3" y1="95.0" x2="1168.3" y2="146.7"/>
<line x1="1212.7" y1="80.0" x2="1212.7" y2="133.3"/>
<line x1="1115.7" y1="333.3" x2="1115.7" y2="365.0"/>
<line x1="314.3" y1="506.0" x2="381.7" y2="520.0"/>
<line x1="315.0" y1="567.7" x2="381.7" y2="575.0"/>
<line x1="313.3" y1="635.0" x2="351.7" y2="645.0"/>
<line x1="315.7" y1="716.7" x2="360.7" y2="719.3"/>
<line x1="315.7" y1="803.3" x2="360.7" y2="808.3"/>
<line x1="540.0" y1="566.7" x2="623.3" y2="545.0"/>
<line x1="540.7" y1="636.0" x2="606.7" y2="626.7"/>
<line x1="540.0" y1="706.0" x2="615.0" y2="686.7"/>
<line x1="540.0" y1="771.7" x2="605.0" y2="756.7"/>
<line x1="540.0" y1="843.3" x2="616.7" y2="823.3"/>
<line x1="315.7" y1="880.0" x2="370.0" y2="876.7"/>
<line x1="315.7" y1="880.0" x2="370.0" y2="903.3"/>
<line x1="315.7" y1="953.3" x2="353.3" y2="953.3"/>
<line x1="315.7" y1="1021.7" x2="341.7" y2="1021.7"/>
<line x1="315.7" y1="1090.0" x2="341.7" y2="1090.0"/>
<line x1="315.0" y1="1153.3" x2="366.7" y2="1131.7"/>
<line x1="315.0" y1="1235.0" x2="346.7" y2="1220.0"/>
<line x1="315.0" y1="1301.7" x2="391.7" y2="1272.7"/>
<line x1="540.0" y1="905.0" x2="605.0" y2="889.3"/>
<line x1="540.7" y1="983.3" x2="613.3" y2="965.7"/>
<line x1="540.0" y1="1090.0" x2="618.3" y2="1070.7"/>
<line x1="800.4" y1="640.8" x2="800.4" y2="692.0"/>
<line x1="896.0" y1="616.8" x2="888.0" y2="648.0"/>
<line x1="946.0" y1="598.0" x2="918.0" y2="654.0"/>
<line x1="1062.0" y1="576.0" x2="1064.8" y2="632.0"/>
<line x1="1130.0" y1="558.0" x2="1124.0" y2="614.0"/>
<line x1="1202.4" y1="538.0" x2="1196.0" y2="646.0"/>
<line x1="1234.0" y1="766.8" x2="1234.0" y2="820.0"/>
<line x1="1168.0" y1="783.2" x2="1168.0" y2="796.0"/>
<line x1="902.0" y1="896.0" x2="1094.0" y2="792.0"/>
<line x1="904.0" y1="964.0" x2="988.0" y2="940.0"/>
<line x1="904.0" y1="1030.0" x2="972.0" y2="1022.0"/>
<line x1="904.0" y1="1207.3" x2="985.0" y2="1204.0"/>
<line x1="904.0" y1="1272.7" x2="946.7" y2="1270.0"/>
<line x1="1083.7" y1="1122.7" x2="1083.7" y2="1143.3"/>
<line x1="1185.7" y1="1095.7" x2="1185.7" y2="1110.0"/>
</g>
<g opacity="0.999">
<circle class="co" cx="286.0" cy="44.9" r="29.8"/>
<text class="num" transform="translate(288.0,43.3) scale(0.53,1)" text-anchor="middle" font-size="37" y="13.5">12</text>
<circle class="co" cx="285.5" cy="114.9" r="29.8"/>
<text class="num" transform="translate(287.5,113.3) scale(0.53,1)" text-anchor="middle" font-size="37" y="13.5">13</text>
<circle class="co" cx="285.8" cy="184.1" r="29.8"/>
<text class="num" transform="translate(287.8,182.5) scale(0.53,1)" text-anchor="middle" font-size="37" y="13.5">14</text>
<circle class="co" cx="283.3" cy="258.7" r="29.8"/>
<text class="num" transform="translate(285.3,257.1) scale(0.53,1)" text-anchor="middle" font-size="37" y="13.5">15</text>
<circle class="co" cx="283.3" cy="336.7" r="29.8"/>
<text class="num" transform="translate(285.3,335.1) scale(0.53,1)" text-anchor="middle" font-size="37" y="13.5">16</text>
<circle class="co" cx="285.7" cy="432.1" r="29.8"/>
<text class="num" transform="translate(287.7,430.5) scale(0.53,1)" text-anchor="middle" font-size="37" y="13.5">17</text>
<circle class="co" cx="285.7" cy="498.4" r="29.8"/>
<text class="num" transform="translate(287.7,496.8) scale(0.53,1)" text-anchor="middle" font-size="37" y="13.5">18</text>
<circle class="co" cx="285.7" cy="564.2" r="29.8"/>
<text class="num" transform="translate(287.7,562.6) scale(0.53,1)" text-anchor="middle" font-size="37" y="13.5">19</text>
<circle class="co" cx="285.7" cy="626.7" r="29.8"/>
<text class="num" transform="translate(287.7,625.1) scale(0.53,1)" text-anchor="middle" font-size="37" y="13.5">20</text>
<circle class="co" cx="285.7" cy="715.9" r="29.8"/>
<text class="num" transform="translate(287.7,714.3) scale(0.53,1)" text-anchor="middle" font-size="37" y="13.5">21</text>
<circle class="co" cx="285.7" cy="800.4" r="29.8"/>
<text class="num" transform="translate(287.7,798.8) scale(0.53,1)" text-anchor="middle" font-size="37" y="13.5">22</text>
<circle class="co" cx="285.7" cy="881.7" r="29.8"/>
<text class="num" transform="translate(287.7,880.1) scale(0.53,1)" text-anchor="middle" font-size="37" y="13.5">23</text>
<circle class="co" cx="285.7" cy="955.9" r="29.8"/>
<text class="num" transform="translate(287.7,954.3) scale(0.53,1)" text-anchor="middle" font-size="37" y="13.5">24</text>
<circle class="co" cx="285.7" cy="1022.9" r="29.8"/>
<text class="num" transform="translate(287.7,1021.3) scale(0.53,1)" text-anchor="middle" font-size="37" y="13.5">25</text>
<circle class="co" cx="285.7" cy="1092.4" r="29.8"/>
<text class="num" transform="translate(287.7,1090.8) scale(0.53,1)" text-anchor="middle" font-size="37" y="13.5">26</text>
<circle class="co" cx="285.7" cy="1164.6" r="29.8"/>
<text class="num" transform="translate(287.7,1163.0) scale(0.53,1)" text-anchor="middle" font-size="37" y="13.5">27</text>
<circle class="co" cx="285.7" cy="1245.9" r="29.8"/>
<text class="num" transform="translate(287.7,1244.3) scale(0.53,1)" text-anchor="middle" font-size="37" y="13.5">28</text>
<circle class="co" cx="285.7" cy="1311.7" r="29.8"/>
<text class="num" transform="translate(287.7,1310.1) scale(0.53,1)" text-anchor="middle" font-size="37" y="13.5">29</text>
<circle class="co" cx="511.2" cy="574.4" r="29.8"/>
<text class="num" transform="translate(513.2,572.8) scale(0.53,1)" text-anchor="middle" font-size="37" y="13.5">30</text>
<circle class="co" cx="511.2" cy="641.2" r="29.8"/>
<text class="num" transform="translate(513.2,639.6) scale(0.53,1)" text-anchor="middle" font-size="37" y="13.5">31</text>
<circle class="co" cx="511.2" cy="713.4" r="29.8"/>
<text class="num" transform="translate(513.2,711.8) scale(0.53,1)" text-anchor="middle" font-size="37" y="13.5">31</text>
<circle class="co" cx="511.2" cy="779.4" r="29.8"/>
<text class="num" transform="translate(513.2,777.8) scale(0.53,1)" text-anchor="middle" font-size="37" y="13.5">31</text>
<circle class="co" cx="511.2" cy="850.7" r="29.8"/>
<text class="num" transform="translate(513.2,849.1) scale(0.53,1)" text-anchor="middle" font-size="37" y="13.5">31</text>
<circle class="co" cx="511.2" cy="913.2" r="29.8"/>
<text class="num" transform="translate(513.2,911.6) scale(0.53,1)" text-anchor="middle" font-size="37" y="13.5">32</text>
<circle class="co" cx="511.2" cy="991.7" r="29.8"/>
<text class="num" transform="translate(513.2,990.1) scale(0.53,1)" text-anchor="middle" font-size="37" y="13.5">33</text>
<circle class="co" cx="511.2" cy="1098.4" r="29.8"/>
<text class="num" transform="translate(513.2,1096.8) scale(0.53,1)" text-anchor="middle" font-size="37" y="13.5">34</text>
<circle class="co" cx="529.3" cy="228.7" r="29.8"/>
<text class="num" transform="translate(531.3,227.1) scale(0.53,1)" text-anchor="middle" font-size="37" y="13.5">11</text>
<circle class="co" cx="596.2" cy="210.1" r="29.8"/>
<text class="num" transform="translate(598.2,208.5) scale(0.53,1)" text-anchor="middle" font-size="37" y="13.5">10</text>
<circle class="co" cx="667.0" cy="192.4" r="29.8"/>
<text class="num" transform="translate(669.0,190.8) scale(0.53,1)" text-anchor="middle" font-size="37" y="13.5">9</text>
<circle class="co" cx="729.7" cy="175.7" r="29.8"/>
<text class="num" transform="translate(731.7,174.1) scale(0.53,1)" text-anchor="middle" font-size="37" y="13.5">8</text>
<circle class="co" cx="790.5" cy="160.4" r="29.8"/>
<text class="num" transform="translate(792.5,158.8) scale(0.53,1)" text-anchor="middle" font-size="37" y="13.5">7</text>
<circle class="co" cx="858.0" cy="143.4" r="29.8"/>
<text class="num" transform="translate(860.0,141.8) scale(0.53,1)" text-anchor="middle" font-size="37" y="13.5">6</text>
<circle class="co" cx="956.2" cy="117.4" r="29.8"/>
<text class="num" transform="translate(958.2,115.8) scale(0.53,1)" text-anchor="middle" font-size="37" y="13.5">5</text>
<circle class="co" cx="1034.5" cy="97.6" r="29.8"/>
<text class="num" transform="translate(1036.5,96.0) scale(0.53,1)" text-anchor="middle" font-size="37" y="13.5">4</text>
<circle class="co" cx="1095.5" cy="80.7" r="29.8"/>
<text class="num" transform="translate(1097.5,79.1) scale(0.53,1)" text-anchor="middle" font-size="37" y="13.5">3</text>
<circle class="co" cx="1153.7" cy="65.9" r="29.8"/>
<text class="num" transform="translate(1155.7,64.3) scale(0.53,1)" text-anchor="middle" font-size="37" y="13.5">2</text>
<circle class="co" cx="1212.3" cy="50.7" r="29.8"/>
<text class="num" transform="translate(1214.3,49.1) scale(0.53,1)" text-anchor="middle" font-size="37" y="13.5">1</text>
<circle class="co" cx="842.0" cy="374.9" r="29.8"/>
<text class="num" transform="translate(844.0,373.3) scale(0.53,1)" text-anchor="middle" font-size="37" y="13.5">35</text>
<circle class="co" cx="973.0" cy="341.6" r="29.8"/>
<text class="num" transform="translate(975.0,340.0) scale(0.53,1)" text-anchor="middle" font-size="37" y="13.5">36</text>
<circle class="co" cx="1115.7" cy="304.1" r="29.8"/>
<text class="num" transform="translate(1117.7,302.5) scale(0.53,1)" text-anchor="middle" font-size="37" y="13.5">37</text>
<circle class="co" cx="800.4" cy="611.8" r="29.8"/>
<text class="num" transform="translate(802.4,610.2) scale(0.53,1)" text-anchor="middle" font-size="37" y="13.5">38</text>
<circle class="co" cx="899.4" cy="587.4" r="29.8"/>
<text class="num" transform="translate(901.4,585.8) scale(0.53,1)" text-anchor="middle" font-size="37" y="13.5">39</text>
<circle class="co" cx="957.6" cy="571.8" r="29.8"/>
<text class="num" transform="translate(959.6,570.2) scale(0.53,1)" text-anchor="middle" font-size="37" y="13.5">40</text>
<circle class="co" cx="1059.6" cy="546.8" r="29.8"/>
<text class="num" transform="translate(1061.6,545.2) scale(0.53,1)" text-anchor="middle" font-size="37" y="13.5">41</text>
<circle class="co" cx="1133.4" cy="528.8" r="29.8"/>
<text class="num" transform="translate(1135.4,527.2) scale(0.53,1)" text-anchor="middle" font-size="37" y="13.5">42</text>
<circle class="co" cx="1202.4" cy="508.8" r="29.8"/>
<text class="num" transform="translate(1204.4,507.2) scale(0.53,1)" text-anchor="middle" font-size="37" y="13.5">43</text>
<circle class="co" cx="1234.0" cy="737.8" r="29.8"/>
<text class="num" transform="translate(1236.0,736.2) scale(0.53,1)" text-anchor="middle" font-size="37" y="13.5">44</text>
<circle class="co" cx="1169.4" cy="754.0" r="29.8"/>
<text class="num" transform="translate(1171.4,752.4) scale(0.53,1)" text-anchor="middle" font-size="37" y="13.5">45</text>
<circle class="co" cx="874.4" cy="910.0" r="29.8"/>
<text class="num" transform="translate(876.4,908.4) scale(0.53,1)" text-anchor="middle" font-size="37" y="13.5">46</text>
<circle class="co" cx="874.4" cy="970.0" r="29.8"/>
<text class="num" transform="translate(876.4,968.4) scale(0.53,1)" text-anchor="middle" font-size="37" y="13.5">47</text>
<circle class="co" cx="874.4" cy="1032.2" r="29.8"/>
<text class="num" transform="translate(876.4,1030.6) scale(0.53,1)" text-anchor="middle" font-size="37" y="13.5">48</text>
<circle class="co" cx="874.4" cy="1209.1" r="29.8"/>
<text class="num" transform="translate(876.4,1207.5) scale(0.53,1)" text-anchor="middle" font-size="37" y="13.5">49</text>
<circle class="co" cx="874.4" cy="1274.2" r="29.8"/>
<text class="num" transform="translate(876.4,1272.6) scale(0.53,1)" text-anchor="middle" font-size="37" y="13.5">50</text>
<circle class="co" cx="1083.7" cy="1093.4" r="29.8"/>
<text class="num" transform="translate(1085.7,1091.8) scale(0.53,1)" text-anchor="middle" font-size="37" y="13.5">51</text>
<circle class="co" cx="1185.5" cy="1066.1" r="29.8"/>
<text class="num" transform="translate(1187.5,1064.5) scale(0.53,1)" text-anchor="middle" font-size="37" y="13.5">52</text>
</g>
<g opacity="0.999">
<rect x="0" y="1370.2" width="1500" height="1.6" fill="#111"/>
<rect x="30.9" y="1406.2" width="215.5" height="59.5" fill="#818185"/>
<g transform="translate(30.9,1406.2)" fill="#fff">
<path d="M35.5,10.9 L54.7,30.1 L35.5,49.3 L26.5,40.3 L26.5,19.9 Z"/>
<rect x="16.3" y="22.9" width="20" height="3.7" rx="1.8"/><rect x="16.3" y="28.1" width="20" height="3.7" rx="1.8"/><rect x="16.3" y="33.2" width="20" height="3.7" rx="1.8"/>
<path d="M28,21.3 L38,21.3 Q41.5,21.5 41.5,25 Q41.5,28.5 39,29.9 Q41.8,31 41.8,34.5 Q41.8,38.6 38,38.7 L28,38.7" fill="none" stroke="#818185" stroke-width="1.6"/>
<text x="63" y="42.4" font-family="Liberation Sans,DejaVu Sans,sans-serif" font-weight="700" font-size="36.6" textLength="137" lengthAdjust="spacingAndGlyphs" stroke="#fff" stroke-width="1.4" stroke-linejoin="round" filter="url(#nf)">ЗУБР</text>
</g>
<text x="289.5" y="1449.5" font-family="Liberation Sans,DejaVu Sans,sans-serif" font-size="33.5" fill="#111" stroke="#111" stroke-width="0.5" textLength="308" lengthAdjust="spacing">ЗШ-П30-1600 ПСТ.</text>
<text x="607.5" y="1449.5" font-family="DejaVu Sans Light,DejaVu Sans,Liberation Sans,sans-serif" font-weight="200" font-size="33" fill="#1a1a1a" stroke="#1a1a1a" stroke-width="0.25" textLength="553" lengthAdjust="spacingAndGlyphs">Схема 1-1 (Общая сборка. Штроборез)</text>
</g>
</svg>
</body></html>
